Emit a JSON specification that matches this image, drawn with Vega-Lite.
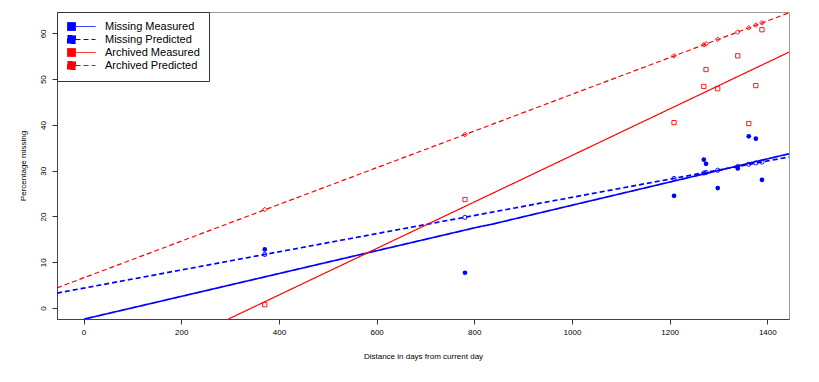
{
  "$schema": "https://vega.github.io/schema/vega-lite/v6.json",
  "autosize": {"type": "none"},
  "width": 732,
  "height": 307,
  "padding": {"left": 57, "top": 12, "right": 30, "bottom": 63},
  "background": "white",
  "config": {
    "view": {"stroke": "#999999", "strokeWidth": 1},
    "font": "Liberation Sans",
    "axis": {
      "grid": false,
      "labelFont": "Liberation Sans",
      "titleFont": "Liberation Sans",
      "labelFontSize": 8,
      "titleFontSize": 8,
      "titleFontWeight": "normal",
      "labelColor": "black",
      "titleColor": "black",
      "tickColor": "#333333",
      "domainColor": "#444444",
      "tickSize": 5
    }
  },
  "datasets": {
    "lines": [
      {"series": "Missing Measured", "x": 0, "y": -2.45},
      {"series": "Missing Measured", "x": 812, "y": 17.8},
      {"series": "Missing Measured", "x": 832, "y": 18.2},
      {"series": "Missing Measured", "x": 1444.4, "y": 33.7},
      {"series": "Missing Predicted", "x": -54.4, "y": 3.26},
      {"series": "Missing Predicted", "x": 1444.4, "y": 33.0},
      {"series": "Archived Measured", "x": 296.8, "y": -2.4},
      {"series": "Archived Measured", "x": 1444.4, "y": 55.9},
      {"series": "Archived Predicted", "x": -54.4, "y": 4.4},
      {"series": "Archived Predicted", "x": 1444.4, "y": 64.5}
    ],
    "points": [
      {"type": "mm", "x": 371, "y": 12.8},
      {"type": "mm", "x": 781, "y": 7.7},
      {"type": "mm", "x": 1209, "y": 24.5},
      {"type": "mm", "x": 1270, "y": 32.4},
      {"type": "mm", "x": 1274.5, "y": 31.5},
      {"type": "mm", "x": 1298.5, "y": 26.2},
      {"type": "mm", "x": 1339.5, "y": 30.5},
      {"type": "mm", "x": 1362, "y": 37.5},
      {"type": "mm", "x": 1376.5, "y": 37.0},
      {"type": "mm", "x": 1389, "y": 28.0},
      {"type": "mp", "x": 371, "y": 11.7},
      {"type": "mp", "x": 781, "y": 19.8},
      {"type": "mp", "x": 1209, "y": 28.3},
      {"type": "mp", "x": 1270, "y": 29.5},
      {"type": "mp", "x": 1274.5, "y": 29.6},
      {"type": "mp", "x": 1298.5, "y": 30.1},
      {"type": "mp", "x": 1339.5, "y": 30.9},
      {"type": "mp", "x": 1362, "y": 31.4},
      {"type": "mp", "x": 1376.5, "y": 31.7},
      {"type": "mp", "x": 1389, "y": 31.9},
      {"type": "am", "x": 371, "y": 0.72},
      {"type": "am", "x": 781, "y": 23.7},
      {"type": "am", "x": 1209, "y": 40.5},
      {"type": "am", "x": 1270, "y": 48.4},
      {"type": "am", "x": 1274.5, "y": 52.1},
      {"type": "am", "x": 1298.5, "y": 47.9},
      {"type": "am", "x": 1339.5, "y": 55.1},
      {"type": "am", "x": 1362, "y": 40.3},
      {"type": "am", "x": 1376.5, "y": 48.6},
      {"type": "am", "x": 1389, "y": 60.8},
      {"type": "ap", "x": 371, "y": 21.5},
      {"type": "ap", "x": 781, "y": 37.9},
      {"type": "ap", "x": 1209, "y": 55.1},
      {"type": "ap", "x": 1270, "y": 57.5},
      {"type": "ap", "x": 1274.5, "y": 57.7},
      {"type": "ap", "x": 1298.5, "y": 58.7},
      {"type": "ap", "x": 1339.5, "y": 60.3},
      {"type": "ap", "x": 1362, "y": 61.2},
      {"type": "ap", "x": 1376.5, "y": 61.8},
      {"type": "ap", "x": 1389, "y": 62.3}
    ]
  },
  "encoding": {
    "x": {
      "field": "x", "type": "quantitative",
      "scale": {"domain": [-54.4, 1444.4], "nice": false, "zero": false},
      "axis": {"title": "Distance in days from current day", "values": [0, 200, 400, 600, 800, 1000, 1200, 1400], "format": "d", "labelPadding": 4, "titlePadding": 16}
    },
    "y": {
      "field": "y", "type": "quantitative",
      "scale": {"domain": [-2.4, 64.67], "nice": false, "zero": false},
      "axis": {"title": "Percentage missing", "values": [0, 10, 20, 30, 40, 50, 60], "labelAngle": 270, "labelPadding": 5, "titlePadding": 12}
    }
  },
  "layer": [
    {
      "data": {"name": "lines"},
      "transform": [{"filter": "indexof(datum.series, 'Missing') == 0"}],
      "mark": {"type": "line", "clip": true, "strokeWidth": 1.7},
      "encoding": {
        "color": {
          "field": "series", "type": "nominal",
          "scale": {"domain": ["Missing Measured", "Missing Predicted", "Archived Measured", "Archived Predicted"], "range": ["#0000ff", "#0000ff", "#ff0000", "#ff0000"]},
          "legend": {
            "title": null, "orient": "none", "legendX": 0, "legendY": 0,
            "symbolType": "M-1,-1H1V1H-1Z M1,0H6",
            "symbolSize": 64, "symbolStrokeWidth": 1,
            "labelFont": "Liberation Sans", "labelFontSize": 11, "labelColor": "black",
            "labelOffset": 28, "padding": 9, "rowPadding": 0,
            "strokeColor": "#333333", "fillColor": "white",
            "encode": {"symbols": {"update": {"fill": {"scale": "color", "field": "value"}, "opacity": {"value": 1}}}}
          }
        },
        "strokeDash": {
          "field": "series", "type": "nominal",
          "scale": {"domain": ["Missing Measured", "Missing Predicted", "Archived Measured", "Archived Predicted"], "range": [[1, 0], [5, 3], [1, 0], [5, 3]]}
        }
      }
    },
    {
      "data": {"name": "lines"},
      "transform": [{"filter": "indexof(datum.series, 'Archived') == 0"}],
      "mark": {"type": "line", "clip": true, "strokeWidth": 1.2},
      "encoding": {
        "color": {"field": "series", "type": "nominal"},
        "strokeDash": {"field": "series", "type": "nominal"}
      }
    },
    {
      "data": {"name": "points"},
      "transform": [{"filter": "datum.type == 'mm'"}],
      "mark": {"type": "circle", "color": "#0000ff", "size": 22, "opacity": 1},
      "encoding": {}
    },
    {
      "data": {"name": "points"},
      "transform": [{"filter": "datum.type == 'mp'"}],
      "mark": {"type": "point", "shape": "circle", "filled": false, "color": "#0000ff", "size": 18, "strokeWidth": 0.9, "opacity": 1},
      "encoding": {}
    },
    {
      "data": {"name": "points"},
      "transform": [{"filter": "datum.type == 'am'"}],
      "mark": {"type": "point", "shape": "square", "filled": false, "color": "#ff0000", "size": 18, "strokeWidth": 0.9, "opacity": 1},
      "encoding": {}
    },
    {
      "data": {"name": "points"},
      "transform": [{"filter": "datum.type == 'ap'"}],
      "mark": {"type": "point", "shape": "diamond", "filled": false, "color": "#ff0000", "size": 22, "strokeWidth": 0.9, "opacity": 1},
      "encoding": {}
    }
  ]
}
